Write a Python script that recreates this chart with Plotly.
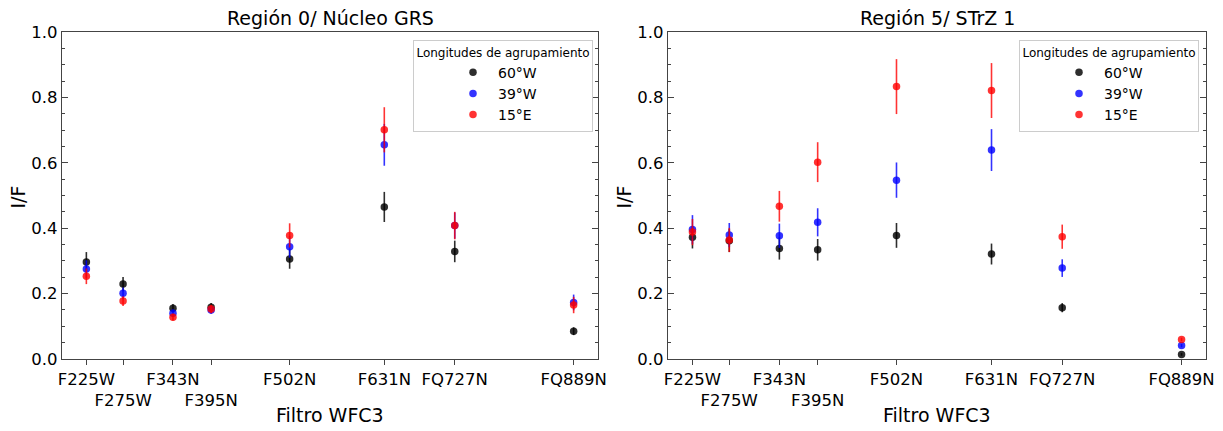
import plotly.graph_objects as go

# ---------------- data ----------------
filters = ["F225W", "F275W", "F343N", "F395N", "F502N", "F631N", "FQ727N", "FQ889N"]
wavelengths = [225, 275, 343, 395, 502, 631, 727, 889]
tick_labels = ["F225W", "<br>F275W", "F343N", "<br>F395N", "F502N", "F631N", "FQ727N", "FQ889N"]
longitudes = ["60°W", "39°W", "15°E"]

# Región 0 / Núcleo GRS
r0_60W = [0.297, 0.229, 0.155, 0.158, 0.306, 0.465, 0.329, 0.085]
r0_60W_err = [0.030, 0.022, 0.013, 0.013, 0.030, 0.046, 0.033, 0.012]
r0_39W = [0.275, 0.201, 0.140, 0.150, 0.343, 0.655, 0.408, 0.173]
r0_39W_err = [0.027, 0.018, 0.011, 0.012, 0.033, 0.064, 0.040, 0.024]
r0_15E = [0.253, 0.177, 0.128, 0.153, 0.378, 0.701, 0.408, 0.165]
r0_15E_err = [0.024, 0.015, 0.010, 0.013, 0.037, 0.069, 0.042, 0.025]

# Región 5 / STrZ 1
r5_60W = [0.372, 0.362, 0.338, 0.334, 0.378, 0.321, 0.157, 0.014]
r5_60W_err = [0.034, 0.035, 0.034, 0.033, 0.038, 0.032, 0.014, 0.004]
r5_39W = [0.396, 0.379, 0.377, 0.418, 0.547, 0.639, 0.278, 0.041]
r5_39W_err = [0.044, 0.037, 0.037, 0.043, 0.054, 0.064, 0.027, 0.005]
r5_15E = [0.388, 0.364, 0.467, 0.602, 0.833, 0.821, 0.374, 0.060]
r5_15E_err = [0.040, 0.037, 0.047, 0.061, 0.084, 0.084, 0.037, 0.005]

titles = ["Región 0/ Núcleo GRS", "Región 5/ STrZ 1"]
colors = ["rgba(0,0,0,0.82)", "rgba(0,0,255,0.8)", "rgba(255,0,0,0.8)"]

W, H = 1223, 431
FONT = "DejaVu Sans"

fig = go.Figure()

panels = [
    ("x", "y", "legend", [(r0_60W, r0_60W_err), (r0_39W, r0_39W_err), (r0_15E, r0_15E_err)]),
    ("x2", "y2", "legend2", [(r5_60W, r5_60W_err), (r5_39W, r5_39W_err), (r5_15E, r5_15E_err)]),
]

for xa, ya, leg, series in panels:
    for (vals, errs), name, col in zip(series, longitudes, colors):
        fig.add_trace(go.Scatter(
            x=wavelengths, y=vals, mode="markers", name=name,
            xaxis=xa, yaxis=ya, legend=leg,
            marker=dict(color=col, size=7.5, line=dict(width=0)),
            error_y=dict(type="data", array=errs, visible=True,
                         color=col, thickness=1.6, width=0),
            showlegend=True,
        ))

# geometry (pixels -> paper fractions)
def px(v):
    return v / W

def py(v):
    return 1 - v / H

xdom1 = [px(62), px(598)]
xdom2 = [px(668), px(1206)]
ydom = [py(359), py(32)]

axis_line = "#444444"

def xaxis_cfg(dom, anchor):
    return dict(
        domain=dom, anchor=anchor, range=[191.8, 922.2],
        tickmode="array", tickvals=wavelengths, ticktext=tick_labels,
        tickangle=0, automargin=False,
        ticks="outside", ticklen=5, tickwidth=1.2, tickcolor=axis_line,
        showline=True, linecolor=axis_line, linewidth=1.3, mirror=True,
        showgrid=False, zeroline=False,
        tickfont=dict(family=FONT, size=16.5, color="black"),
    )

def yaxis_cfg(anchor):
    return dict(
        domain=ydom, anchor=anchor, range=[0, 1.0], automargin=False,
        tickmode="linear", tick0=0, dtick=0.2, tickformat=".1f",
        ticks="inside", ticklen=6, tickwidth=1.2, tickcolor=axis_line,
        minor=dict(ticks="inside", dtick=0.05, ticklen=3, tickwidth=1, tickcolor=axis_line),
        showline=True, linecolor=axis_line, linewidth=1.3, mirror="allticks",
        showgrid=False, zeroline=False,
        tickfont=dict(family=FONT, size=16.5, color="black"),
    )

def legend_cfg(xright):
    return dict(
        x=px(xright), xanchor="right", xref="paper",
        y=py(40), yanchor="top", yref="paper",
        bgcolor="rgba(255,255,255,0.8)", bordercolor="#cccccc", borderwidth=1,
        font=dict(family=FONT, size=14, color="black"),
        title=dict(text="Longitudes de agrupamiento", side="top center",
                   font=dict(family=FONT, size=12, color="black")),
        indentation=34, itemwidth=40,
    )

annotations = []
for dom, title in zip([xdom1, xdom2], titles):
    cx = (dom[0] + dom[1]) / 2
    annotations.append(dict(text=title, x=cx, y=py(18), xref="paper", yref="paper",
                            xanchor="center", yanchor="middle", showarrow=False,
                            font=dict(family=FONT, size=19, color="black")))
    annotations.append(dict(text="Filtro WFC3", x=cx, y=py(415), xref="paper", yref="paper",
                            xanchor="center", yanchor="middle", showarrow=False,
                            font=dict(family=FONT, size=19, color="black")))
for xl in [17.5, 623.5]:
    annotations.append(dict(text="I/F", x=px(xl), y=py(197), xref="paper", yref="paper",
                            xanchor="center", yanchor="middle", showarrow=False, textangle=-90,
                            font=dict(family=FONT, size=19, color="black")))

fig.update_layout(
    width=W, height=H,
    margin=dict(l=0, r=0, t=0, b=0),
    paper_bgcolor="white", plot_bgcolor="white",
    font=dict(family=FONT),
    xaxis=xaxis_cfg(xdom1, "y"),
    yaxis=yaxis_cfg("x"),
    xaxis2=xaxis_cfg(xdom2, "y2"),
    yaxis2=yaxis_cfg("x2"),
    legend=legend_cfg(593),
    legend2=legend_cfg(1199),
    annotations=annotations,
)

fig.write_html("out.html")
